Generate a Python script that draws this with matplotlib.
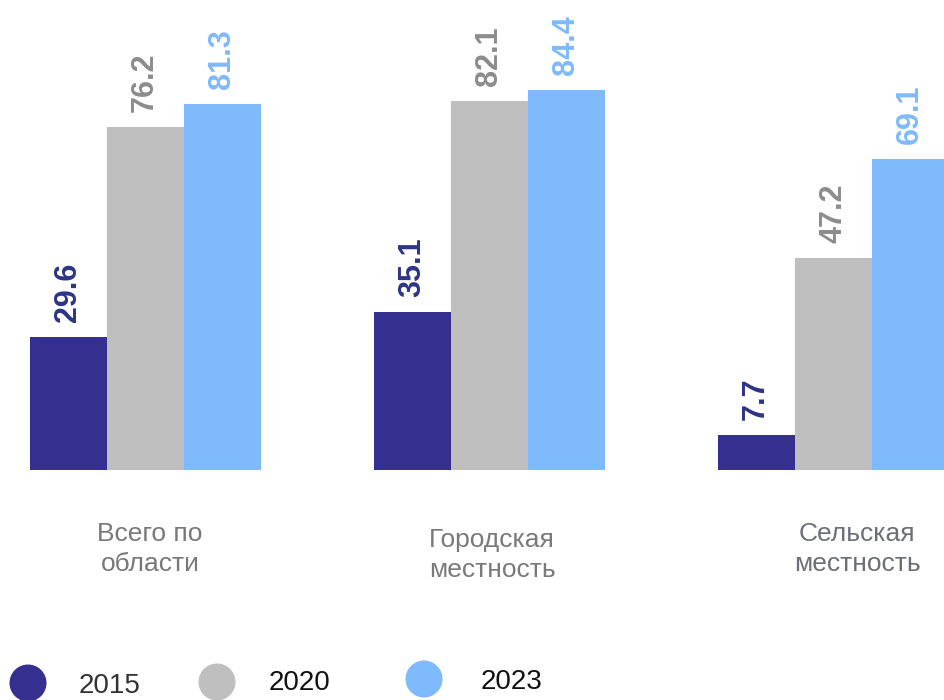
import numpy as np
import matplotlib
matplotlib.use('Agg')
import matplotlib.pyplot as plt
from matplotlib.patches import Ellipse

plt.rcParams['font.family'] = ['Liberation Sans', 'DejaVu Sans']

# Данные
categories = ['Всего по\nобласти', 'Городская\nместность', 'Сельская\nместность']
years = ['2015', '2020', '2023']
values_2015 = [29.6, 35.1, 7.7]
values_2020 = [76.2, 82.1, 47.2]
values_2023 = [81.3, 84.4, 69.1]

bar_colors = ['#35308f', '#bfbfbf', '#7fbafc']
text_colors = ['#2b3486', '#8c8c8c', '#7fbafc']

W, H = 944, 700
fig = plt.figure(figsize=(W / 100, H / 100), dpi=100)

# основная ось: 344 px между группами, 4.5 px на единицу
ax = fig.add_axes([0, 0, 1, 1])
x = np.arange(len(categories))
bw = 77 / 344
px_unit = 4.5
ax.set_xlim(-145 / 344, (W - 145) / 344)
ax.set_ylim(-(H - 470) / px_unit, 470 / px_unit)
ax.axis('off')

series = [values_2015, values_2020, values_2023]
for i, vals in enumerate(series):
    pos = x + (i - 1) * bw
    ax.bar(pos, vals, width=bw, color=bar_colors[i], edgecolor='none')
    for p, v in zip(pos, vals):
        ax.text(p, v + 15 / px_unit, f'{v:.1f}', rotation=90, ha='center', va='bottom',
                fontsize=22, fontweight='bold', color=text_colors[i])

# оверлей в пикселях для подписей и легенды
ov = fig.add_axes([0, 0, 1, 1])
ov.set_xlim(0, W)
ov.set_ylim(H, 0)
ov.axis('off')

cat_pos = [(150, 549, '#787878'), (492, 555, '#7a7a7a'), (857, 549, '#6c6f78')]
for (cx, cy, cc), name in zip(cat_pos, categories):
    ov.text(cx, cy, name, ha='center', va='center', fontsize=19, color=cc,
            linespacing=1.32)

leg_circles = [(28, 683), (217, 682), (424, 679)]
leg_text = [(110, 686, '#333333'), (300, 683, '#111111'), (512, 682, '#111111')]
for i, yr in enumerate(years):
    cx, cy = leg_circles[i]
    ov.add_patch(Ellipse((cx, cy), 37, 37, color=bar_colors[i], ec='none'))
    tx, ty, tc = leg_text[i]
    ov.text(tx, ty, yr, ha='center', va='center', fontsize=20, color=tc)

fig.savefig('out.png', dpi=100)
